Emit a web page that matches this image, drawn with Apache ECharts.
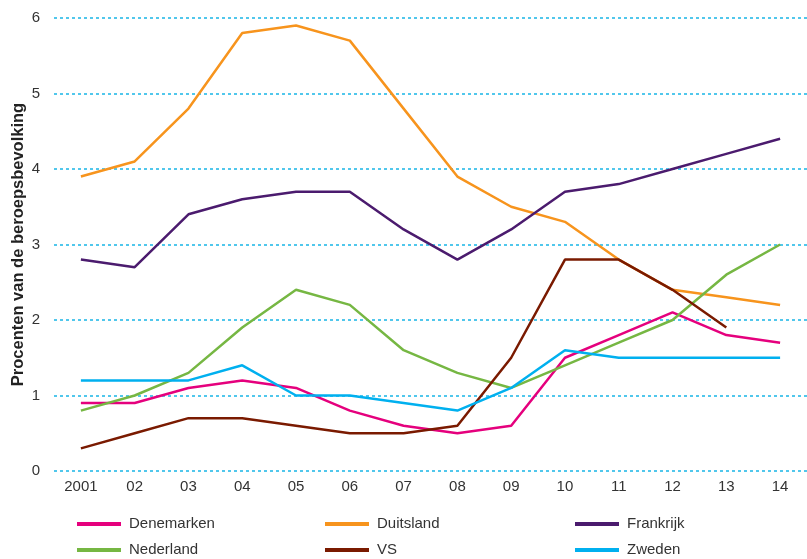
<!DOCTYPE html>
<html>
<head>
<meta charset="utf-8">
<script src="https://cdn.jsdelivr.net/npm/echarts@6/dist/echarts.min.js"></script>
<style>
  html, body { margin: 0; padding: 0; background: #fff; }
  #chart { width: 807px; height: 559px; }
</style>
</head>
<body>
<div id="chart"></div>
<script>
// jaren op de x-as
var jaren = ['2001', '02', '03', '04', '05', '06', '07', '08', '09', '10', '11', '12', '13', '14'];

// procenten van de beroepsbevolking per land
var denemarken = [0.9, 0.9, 1.1, 1.2, 1.1, 0.8, 0.6, 0.5, 0.6, 1.5, 1.8, 2.1, 1.8, 1.7];
var duitsland  = [3.9, 4.1, 4.8, 5.8, 5.9, 5.7, 4.8, 3.9, 3.5, 3.3, 2.8, 2.4, 2.3, 2.2];
var frankrijk  = [2.8, 2.7, 3.4, 3.6, 3.7, 3.7, 3.2, 2.8, 3.2, 3.7, 3.8, 4.0, 4.2, 4.4];
var nederland  = [0.8, 1.0, 1.3, 1.9, 2.4, 2.2, 1.6, 1.3, 1.1, 1.4, 1.7, 2.0, 2.6, 3.0];
var vs         = [0.3, 0.5, 0.7, 0.7, 0.6, 0.5, 0.5, 0.6, 1.5, 2.8, 2.8, 2.4, 1.9, null];
var zweden     = [1.2, 1.2, 1.2, 1.4, 1.0, 1.0, 0.9, 0.8, 1.1, 1.6, 1.5, 1.5, 1.5, 1.5];

var chart = echarts.init(document.getElementById('chart'));

function lijn(naam, data, kleur) {
  return {
    name: naam,
    type: 'line',
    data: data,
    symbol: 'none',
    color: kleur,
    lineStyle: { width: 2.5, color: kleur }
  };
}

// een legenda per kolom, twee rijen
function legenda(left, items) {
  return {
    left: left,
    top: 515,
    padding: 0,
    orient: 'vertical',
    icon: 'rect',
    itemWidth: 44,
    itemHeight: 4,
    itemGap: 8,
    data: items,
    textStyle: {
      fontFamily: 'Liberation Sans, Arial, sans-serif',
      fontSize: 15,
      color: '#333',
      lineHeight: 18,
      padding: [0, 0, 0, 3]
    }
  };
}

var option = {
  animation: false,
  grid: { left: 54, right: 0, top: 18, bottom: 88, containLabel: false, outerBoundsMode: 'none' },
  legend: [
    legenda(77, ['Denemarken', 'Nederland']),
    legenda(325, ['Duitsland', 'VS']),
    legenda(575, ['Frankrijk', 'Zweden'])
  ],
  xAxis: {
    type: 'category',
    data: jaren,
    boundaryGap: true,
    axisLine: { show: false },
    axisTick: { show: false },
    axisLabel: {
      margin: 8,
      fontFamily: 'Liberation Sans, Arial, sans-serif',
      fontSize: 15,
      color: '#333'
    }
  },
  yAxis: {
    type: 'value',
    min: 0,
    max: 6,
    interval: 1,
    name: 'Procenten van de beroepsbevolking',
    nameLocation: 'middle',
    nameGap: 27,
    nameMoveOverlap: false,
    nameTextStyle: {
      fontFamily: 'Liberation Sans, Arial, sans-serif',
      fontSize: 16.5,
      fontWeight: 'bold',
      color: '#222'
    },
    axisLine: { show: false },
    axisTick: { show: false },
    axisLabel: {
      margin: 14,
      fontFamily: 'Liberation Sans, Arial, sans-serif',
      fontSize: 15,
      color: '#333'
    },
    splitLine: {
      lineStyle: { color: '#19b5e6', type: [3, 3], width: 1.5 }
    }
  },
  series: [
    lijn('Denemarken', denemarken, '#e5007d'),
    lijn('Duitsland', duitsland, '#f7941d'),
    lijn('Frankrijk', frankrijk, '#4b1b6e'),
    lijn('Nederland', nederland, '#76b743'),
    lijn('VS', vs, '#7a1a00'),
    lijn('Zweden', zweden, '#00b0ef')
  ]
};

chart.setOption(option);
</script>
</body>
</html>
